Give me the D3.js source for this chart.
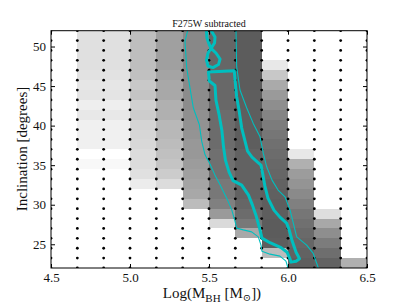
<!DOCTYPE html>
<html>
<head>
<meta charset="utf-8">
<script src="https://cdn.jsdelivr.net/npm/d3@7"></script>
<style>
  body { margin: 0; background: #fff; }
  svg text { font-family: "Liberation Serif", "DejaVu Serif", serif; fill: #111; }
</style>
</head>
<body>
<svg id="chart" width="407" height="305"></svg>
<script>
// model grid: black-hole mass (log) and inclination, one dot per model
const massGrid = [4.5, 4.6667, 4.8333, 5.0, 5.1667, 5.3333, 5.5, 5.6667, 5.8333, 6.0, 6.1667, 6.3333, 6.5];
const inclGrid = [22, 23.25, 24.5, 25.75, 27, 28.25, 29.5, 30.75, 32, 33.25, 34.5, 35.75,
                  37, 38.25, 39.5, 40.75, 42, 43.25, 44.5, 45.75, 47, 48.25, 49.5, 50.75, 52];

// grey level (0-255) of each cell, one list per mass column, top row (52 deg) first; null = empty
const _ = null;
const grey450 = [_, _, _, _, _, _, _, _, _, _, _, _, _, _, _, _, _, _, _, _, _, _, _, _];
const grey467 = [224, 224, 224, 224, 226, 230, 228, 238, 232, 240, 240, 240, _, 248, _, _, _, _, _, _, _, _, _, _];
const grey483 = [224, 224, 224, 224, 226, 230, 228, 238, 232, 240, 240, 240, _, 248, _, _, _, _, _, _, _, _, _, _];
const grey500 = [190, 190, 190, 190, 192, 200, 196, 208, 204, 212, 214, 216, 220, 220, 224, 236, _, _, _, _, _, _, _, _];
const grey517 = [160, 160, 160, 160, 164, 168, 168, 176, 176, 184, 184, 188, 192, 196, 204, 220, _, _, _, _, _, _, _, _];
const grey533 = [136, 136, 136, 136, 138, 138, 140, 140, 144, 146, 148, 152, 152, 156, 160, 164, 168, 188, _, _, _, _, _, _];
const grey550 = [102, 102, 102, 102, 104, 104, 104, 104, 108, 108, 108, 108, 112, 112, 112, 120, 120, 128, 154, 218, _, _, _, _];
const grey567 = [92, 92, 92, 92, 92, 92, 94, 94, 94, 94, 94, 94, 98, 98, 98, 98, 98, 102, 108, 120, 168, _, _, _];
const grey583 = [_, _, _, 232, 200, 170, 154, 142, 132, 124, 118, 112, 108, 104, 102, 98, 96, 94, 94, 92, 92, 94, 188, _];
const grey600 = [_, _, _, _, _, _, _, _, _, _, _, _, 232, 176, 156, 148, 138, 128, 118, 112, 106, 102, 98, 94];
const grey617 = [_, _, _, _, _, _, _, _, _, _, _, _, _, _, _, _, _, _, 222, 168, 142, 124, 110, 98];
const grey633 = [_, _, _, _, _, _, _, _, _, _, _, _, _, _, _, _, _, _, _, _, _, _, _, 176];
const greyColumns = [grey450, grey467, grey483, grey500, grey517, grey533, grey550, grey567, grey583, grey600, grey617, grey633];

// cyan contours, [log mass, inclination]
const thinLeft = [[5.365, 52.0], [5.348, 50.66], [5.359, 47.28], [5.380, 44.75], [5.401, 42.22], [5.439, 40.11],
  [5.454, 38.01], [5.475, 36.31], [5.506, 35.14], [5.538, 33.74], [5.570, 32.52], [5.612, 30.83], [5.644, 29.35],
  [5.665, 27.89], [5.675, 27.04], [5.717, 26.82], [5.770, 26.57], [5.812, 25.94], [5.829, 24.89], [5.835, 24.13],
  [5.886, 23.75], [5.949, 23.50], [5.987, 22.86], [6.000, 22.0]];
const thinRight = [[5.671, 52.0], [5.675, 47.45], [5.696, 44.50], [5.739, 42.22], [5.780, 40.28], [5.823, 38.59],
  [5.844, 36.49], [5.865, 34.79], [5.899, 33.11], [5.937, 31.85], [5.981, 31.0], [6.013, 29.32], [6.034, 27.63],
  [6.055, 25.94], [6.118, 24.89], [6.160, 23.84], [6.182, 22.57], [6.192, 22.0]];
const thickMain = [[5.496, 46.77], [5.500, 46.14], [5.502, 45.64], [5.538, 45.07], [5.544, 43.23], [5.563, 41.46],
  [5.582, 39.31], [5.592, 37.29], [5.604, 35.64], [5.627, 34.12], [5.652, 33.05], [5.707, 32.48], [5.750, 31.21],
  [5.775, 29.95], [5.797, 28.68], [5.820, 27.04], [5.835, 25.77], [5.886, 25.20], [5.956, 24.57], [5.994, 24.0],
  [6.013, 23.12], [6.019, 22.74], [6.051, 22.86], [6.073, 23.18], [6.051, 24.0], [6.025, 25.52], [6.006, 26.91],
  [5.991, 27.67], [5.949, 28.43], [5.911, 29.32], [5.873, 30.83], [5.854, 32.35], [5.839, 34.0], [5.829, 35.01],
  [5.807, 35.39], [5.772, 36.02], [5.744, 36.78], [5.728, 38.04], [5.707, 39.69], [5.690, 41.97], [5.675, 43.65],
  [5.665, 45.76], [5.660, 46.94]];
const thickLoop = [[5.484, 52.0], [5.487, 51.08], [5.500, 50.32], [5.513, 49.77], [5.544, 49.18], [5.570, 48.42],
  [5.560, 47.72], [5.525, 47.34], [5.494, 47.53], [5.484, 48.29], [5.494, 49.18], [5.513, 49.77], [5.535, 50.44],
  [5.538, 51.20], [5.519, 51.84], [5.513, 52.0]];

const massTicks = [4.5, 5.0, 5.5, 6.0, 6.5];
const inclTicks = [25, 30, 35, 40, 45, 50];

const svg = d3.select("#chart");
const x = d3.scaleLinear().domain([4.5, 6.5]).range([51, 367]);
const y = d3.scaleLinear().domain([22, 52]).range([268, 30.7]);

svg.append("rect").attr("width", 407).attr("height", 305).attr("fill", "#fff");

svg.append("clipPath").attr("id", "plot")
  .append("rect")
    .attr("x", x(4.5)).attr("y", y(52))
    .attr("width", x(6.5) - x(4.5)).attr("height", y(22) - y(52));

// grey model cells
const cells = [];
greyColumns.forEach((col, c) => {
  col.forEach((g, r) => {
    if (g === null) return;
    cells.push({ m0: massGrid[c], m1: massGrid[c + 1], i0: inclGrid[23 - r], i1: inclGrid[24 - r], g: g });
  });
});

svg.append("g")
    .attr("shape-rendering", "crispEdges")
  .selectAll("rect.cell")
  .data(cells)
  .join("rect")
    .attr("class", "cell")
    .attr("x", d => x(d.m0))
    .attr("y", d => y(d.i1))
    .attr("width", d => x(d.m1) - x(d.m0))
    .attr("height", d => y(d.i0) - y(d.i1))
    .attr("fill", d => d3.rgb(d.g, d.g, d.g));

// grid dots
const dots = d3.cross(massGrid, inclGrid);
svg.append("g")
    .attr("clip-path", "url(#plot)")
  .selectAll("circle")
  .data(dots)
  .join("circle")
    .attr("cx", d => x(d[0]))
    .attr("cy", d => y(d[1]))
    .attr("r", 1.4)
    .attr("fill", "#000");

// contours
const line = d3.line().x(d => x(d[0])).y(d => y(d[1]));
const closed = d3.line().x(d => x(d[0])).y(d => y(d[1])).curve(d3.curveLinearClosed);
const cont = svg.append("g").attr("clip-path", "url(#plot)")
  .attr("fill", "none").attr("stroke", "#00bfbf").attr("stroke-linejoin", "round");

cont.append("path").attr("d", line(thinLeft)).attr("stroke-width", 1.1);
cont.append("path").attr("d", line(thinRight)).attr("stroke-width", 1.1);
cont.append("path").attr("d", closed(thickMain)).attr("stroke-width", 3);
cont.append("path").attr("d", line(thickLoop)).attr("stroke-width", 3);

// axes, ticks pointing inward on all four sides
const fmt = d3.format(".1f");
const axBottom = svg.append("g").attr("transform", `translate(0,${y(22)})`)
  .call(d3.axisBottom(x).tickValues(massTicks).tickFormat(fmt).tickSizeInner(-4).tickSizeOuter(0).tickPadding(5));
const axTop = svg.append("g").attr("transform", `translate(0,${y(52)})`)
  .call(d3.axisTop(x).tickValues(massTicks).tickFormat("").tickSizeInner(-4).tickSizeOuter(0));
const axLeft = svg.append("g").attr("transform", `translate(${x(4.5)},0)`)
  .call(d3.axisLeft(y).tickValues(inclTicks).tickSizeInner(-4).tickSizeOuter(0).tickPadding(5));
const axRight = svg.append("g").attr("transform", `translate(${x(6.5)},0)`)
  .call(d3.axisRight(y).tickValues(inclTicks).tickFormat("").tickSizeInner(-4).tickSizeOuter(0));

[axBottom, axTop, axLeft, axRight].forEach(g => {
  g.select(".domain").remove();
  g.selectAll("line").attr("stroke", "#000");
  g.selectAll("text")
    .style("font-family", '"Liberation Serif", "DejaVu Serif", serif')
    .style("font-size", "13px")
    .attr("fill", "#222");
});

svg.append("rect")
    .attr("x", x(4.5)).attr("y", y(52))
    .attr("width", x(6.5) - x(4.5)).attr("height", y(22) - y(52))
    .attr("fill", "none").attr("stroke", "#000").attr("stroke-width", 1);

// labels
svg.append("text")
    .attr("x", 209).attr("y", 26.5)
    .attr("text-anchor", "middle")
    .style("font-size", "10px")
    .text("F275W subtracted");

svg.append("text")
    .attr("transform", "translate(27,149) rotate(-90)")
    .attr("text-anchor", "middle")
    .style("font-size", "15px")
    .text("Inclination [degrees]");

const xl = svg.append("text")
    .attr("x", 212).attr("y", 298)
    .attr("text-anchor", "middle")
    .style("font-size", "15px");
xl.append("tspan").text("Log(M");
xl.append("tspan").attr("dy", 4).style("font-size", "11px").text("BH");
xl.append("tspan").attr("dy", -4).text(" [M");
xl.append("tspan").attr("dy", 3).style("font-size", "10px").text("\u2299");
xl.append("tspan").attr("dy", -3).text("])");
</script>
</body>
</html>
